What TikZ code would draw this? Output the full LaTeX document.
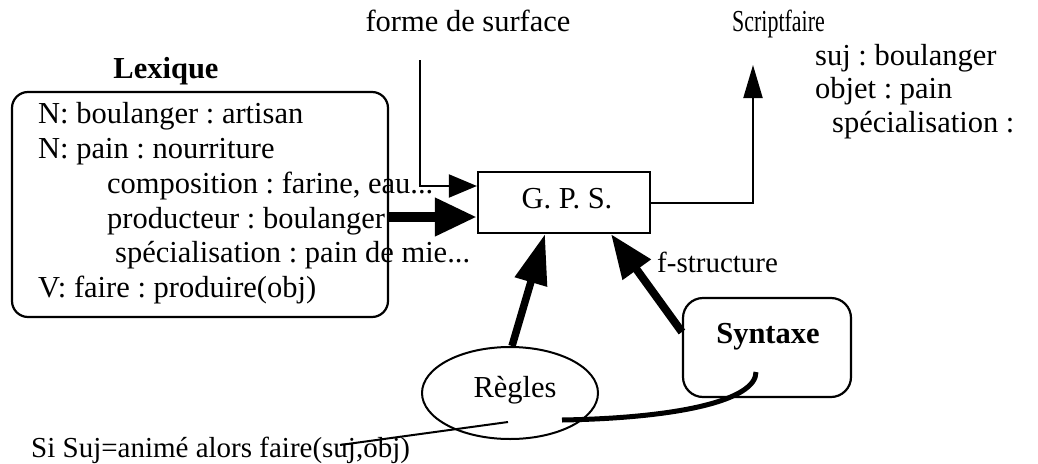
\documentclass[tikz,border=0pt]{standalone}
\usepackage{fontspec}
\setmainfont{Liberation Serif}
\usepackage{graphicx}
\usetikzlibrary{arrows.meta,shapes.geometric}
\frenchspacing
\begin{document}
\begin{tikzpicture}[x=1pt,y=-1pt,
  txt/.style={inner sep=0pt,anchor=base west,font=\fontsize{30.5}{34}\selectfont\frenchspacing},
  ctxt/.style={inner sep=0pt,anchor=base,font=\fontsize{30.5}{34}\selectfont\frenchspacing},
  smalltxt/.style={txt,font=\fontsize{29}{34}\selectfont\frenchspacing},
  boxstyle/.style={draw,line width=2.2pt,inner sep=0pt},
  thinline/.style={line width=2pt},
  thickarrow/.style={line width=#1,-{Triangle[length=42pt,width=36pt]}},
]
\useasboundingbox (0,0) rectangle (1038,463);

% boxes
\node[boxstyle,rounded corners=16pt,minimum width=376pt,minimum height=225pt] (lex) at (200,204.5) {};
\node[boxstyle,minimum width=172pt,minimum height=61pt] (gps) at (564,202.5) {};
\node[ctxt] (gpst) at (567,208) {G. P. S.};
\node[boxstyle,rounded corners=20pt,minimum width=168pt,minimum height=99pt] (syn) at (767,347.5) {};
\node[ctxt,font=\fontsize{30.5}{34}\selectfont\bfseries] (synt) at (768,343) {Syntaxe};
\node[boxstyle,line width=2pt,ellipse,minimum width=176pt,minimum height=92pt] (reg) at (510,393) {};
\node[ctxt] (regt) at (515,397) {Règles};

% Lexique texts
\node[ctxt,font=\fontsize{30.5}{34}\selectfont\bfseries] (lext) at (166,78) {Lexique};
\node[txt] (l1) at (38,123) {N: boulanger : artisan};
\node[txt] (l2) at (38,158) {N: pain : nourriture};
\node[txt] (l3) at (107,193) {composition : farine, eau...};
\node[txt] (l4) at (107,228) {producteur : boulanger};
\node[txt] (l5) at (115,262) {spécialisation : pain de mie...};
\node[txt] (l6) at (38,297) {V: faire : produire(obj)};

% other texts
\node[ctxt] (forme) at (468,31) {forme de surface};
\node[txt] (script) at (732,31) {\scalebox{0.72}[1]{Scriptfaire}};
\node[txt] (s1) at (815,65) {suj : boulanger};
\node[txt] (s2) at (815,98) {objet : pain};
\node[txt] (s3) at (832,132) {spécialisation :};
\node[smalltxt] (fs) at (657,272) {f-structure};
\node[smalltxt] (si) at (31,457) {Si Suj=animé alors faire(suj,obj)};

% coordinates for free ends
\coordinate (formetop) at (420,60);
\coordinate (scripttip) at (753,65);
\coordinate (curvestart) at (562,420);
\coordinate (curveend) at (756,372);
\coordinate (thinstart) at (508,422);
\coordinate (thinend) at (340,445);

% connectors
\draw[thinline,-{Triangle[length=28pt,width=23pt]}] (formetop) |- ([yshift=16.5pt]gps.west);
\draw[thickarrow=10pt] (lex.east |- 0,217) -- ([yshift=-14.5pt]gps.west);
\draw[thinline,-{Triangle[length=33pt,width=19pt]}] (gps.east) -| (scripttip);
\draw[line width=7.5pt,-{Triangle[length=50pt,width=32pt]}] ([xshift=2pt]reg.north) -- ([xshift=-19pt]gps.south);
\draw[line width=8pt,-{Triangle[length=44pt,width=33pt]}] (syn.west |- 0,332) -- ([xshift=47pt]gps.south);
\draw[line width=5pt] (curvestart) .. controls (680,418) and (756,400) .. (curveend);
\draw[thinline] (thinstart) -- (thinend);
\end{tikzpicture}
\end{document}
